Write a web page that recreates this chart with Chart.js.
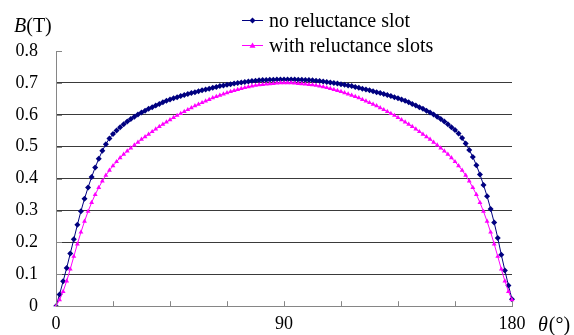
<!DOCTYPE html>
<html>
<head>
<meta charset="utf-8">
<script src="https://cdn.jsdelivr.net/npm/chart.js@4.4.1/dist/chart.umd.min.js"></script>
<style>
  html, body { margin: 0; padding: 0; background: #fff; }
</style>
</head>
<body>
<canvas id="chart" width="574" height="335"></canvas>
<script>
// sampling grid: 129 points from 0 to 180 degrees
var angles = Array.from({ length: 129 }, function (_, i) { return +(i * 180 / 128).toFixed(2); });
var tickLabels = ['0', '90', '180'];
var seriesNames = ['no reluctance slot', 'with reluctance slots'];

// B (T) without reluctance slot
var noSlotB = [
  0, 0.037, 0.078, 0.12, 0.165, 0.21, 0.255, 0.298, 0.337, 0.372,
  0.405, 0.435, 0.462, 0.487, 0.508, 0.526, 0.54, 0.551, 0.561, 0.57,
  0.579, 0.587, 0.594, 0.601, 0.607, 0.613, 0.619, 0.624, 0.629, 0.634,
  0.639, 0.644, 0.648, 0.652, 0.655, 0.659, 0.662, 0.665, 0.668, 0.671,
  0.674, 0.677, 0.679, 0.682, 0.685, 0.687, 0.69, 0.692, 0.694, 0.696,
  0.698, 0.7, 0.701, 0.703, 0.704, 0.706, 0.707, 0.708, 0.709, 0.709,
  0.71, 0.71, 0.711, 0.711, 0.711,
  0.711, 0.711, 0.711, 0.71, 0.71, 0.709, 0.709, 0.708, 0.707, 0.706,
  0.704, 0.703, 0.701, 0.7, 0.698, 0.696, 0.694, 0.692, 0.69, 0.687,
  0.685, 0.682, 0.679, 0.677, 0.674, 0.671, 0.668, 0.665, 0.662, 0.659,
  0.655, 0.652, 0.648, 0.644, 0.639, 0.634, 0.629, 0.624, 0.619, 0.613,
  0.607, 0.601, 0.594, 0.587, 0.579, 0.57, 0.561, 0.552, 0.541, 0.527,
  0.51, 0.49, 0.468, 0.442, 0.413, 0.38, 0.345, 0.305, 0.262, 0.214,
  0.161, 0.112, 0.065, 0.022
];

// B (T) with reluctance slots
var withSlotsB = [
  0, 0.02, 0.046, 0.079, 0.116, 0.156, 0.195, 0.232, 0.266, 0.297,
  0.325, 0.35, 0.372, 0.392, 0.41, 0.426, 0.44, 0.453, 0.465, 0.476,
  0.486, 0.496, 0.505, 0.514, 0.523, 0.531, 0.539, 0.547, 0.555, 0.563,
  0.57, 0.577, 0.584, 0.591, 0.598, 0.604, 0.61, 0.616, 0.622, 0.628,
  0.633, 0.638, 0.643, 0.648, 0.653, 0.657, 0.661, 0.665, 0.669, 0.673,
  0.676, 0.679, 0.682, 0.685, 0.688, 0.69, 0.692, 0.694, 0.695, 0.696,
  0.697, 0.698, 0.699, 0.7, 0.7,
  0.7, 0.7, 0.699, 0.698, 0.697, 0.696, 0.695, 0.694, 0.692, 0.69,
  0.688, 0.685, 0.682, 0.679, 0.676, 0.673, 0.669, 0.665, 0.661, 0.657,
  0.653, 0.648, 0.643, 0.638, 0.633, 0.628, 0.622, 0.616, 0.61, 0.604,
  0.598, 0.591, 0.584, 0.577, 0.57, 0.563, 0.555, 0.547, 0.539, 0.531,
  0.523, 0.514, 0.505, 0.496, 0.486, 0.476, 0.465, 0.453, 0.44, 0.426,
  0.41, 0.392, 0.372, 0.35, 0.325, 0.297, 0.266, 0.232, 0.195, 0.156,
  0.116, 0.079, 0.046, 0.02
];

var SERIF = '"Liberation Serif", "Times New Roman", serif';
var NAVY = '#000080';
var MAGENTA = '#FF00FF';

function drawMarker(ctx, style, cx, cy, r, color) {
    ctx.fillStyle = color;
    ctx.beginPath();
    if (style === 'rectRot') {
        ctx.moveTo(cx, cy - r); ctx.lineTo(cx + r, cy); ctx.lineTo(cx, cy + r); ctx.lineTo(cx - r, cy);
    } else {
        ctx.moveTo(cx, cy - r); ctx.lineTo(cx + r, cy + r * 0.75); ctx.lineTo(cx - r, cy + r * 0.75);
    }
    ctx.closePath();
    ctx.fill();
}

// inside tick marks, axis captions and the two-row legend
var extras = {
    id: 'extras',
    afterDraw: function (chart) {
        var ctx = chart.ctx;
        var xs = chart.scales.x, ys = chart.scales.y;
        ctx.save();
        ctx.strokeStyle = '#868686';
        ctx.lineWidth = 1;
        ctx.beginPath();
        for (var i = 0; i < angles.length; i += 16) {
            var px = Math.round(xs.getPixelForValue(i)) + 0.5;
            ctx.moveTo(px, xs.top); ctx.lineTo(px, xs.top - 5);
        }
        ys.ticks.forEach(function (t) {
            var py = Math.round(ys.getPixelForValue(t.value)) + 0.5;
            ctx.moveTo(ys.right, py); ctx.lineTo(ys.right + 6, py);
        });
        ctx.stroke();

        ctx.fillStyle = '#000';
        ctx.textBaseline = 'alphabetic';
        // B(T)
        ctx.font = 'italic 20px ' + SERIF;
        ctx.fillText('B', 14, 32);
        var w = ctx.measureText('B').width;
        ctx.font = '20px ' + SERIF;
        ctx.fillText('(T)', 14 + w, 32);
        // θ(°)
        ctx.font = 'italic 20px ' + SERIF;
        ctx.fillText('θ', 538, 331);
        w = ctx.measureText('θ').width;
        ctx.font = '20px ' + SERIF;
        ctx.fillText('(°)', 538 + w + 1, 331);

        // legend
        var rows = [20.5, 45.5];
        chart.data.datasets.forEach(function (ds, k) {
            var ly = rows[k];
            ctx.strokeStyle = ds.borderColor;
            ctx.beginPath();
            ctx.moveTo(242, ly); ctx.lineTo(263, ly);
            ctx.stroke();
            drawMarker(ctx, ds.pointStyle, 252.5, ly, 3, ds.borderColor);
            ctx.fillStyle = '#000';
            ctx.font = '20px ' + SERIF;
            ctx.fillText(ds.label, 269, ly + 6);
        });
        ctx.restore();
    }
};

var ctx = document.getElementById('chart').getContext('2d');
var chart = new Chart(ctx, {
    type: 'line',
    data: {
        labels: angles,
        datasets: [{
            label: seriesNames[0],
            data: noSlotB,
            borderColor: NAVY,
            backgroundColor: NAVY,
            borderWidth: 1,
            pointStyle: 'rectRot',
            pointRadius: 3,
            pointBorderWidth: 0,
            order: 1
        }, {
            label: seriesNames[1],
            data: withSlotsB,
            borderColor: MAGENTA,
            backgroundColor: MAGENTA,
            borderWidth: 1,
            pointStyle: 'triangle',
            pointRadius: 2.8,
            pointBorderWidth: 0,
            order: 0
        }]
    },
    options: {
        responsive: false,
        animation: false,
        events: [],
        layout: { padding: { left: 0, right: 62, top: 51, bottom: 0 } },
        plugins: {
            legend: { display: false },
            tooltip: { enabled: false }
        },
        scales: {
            x: {
                type: 'category',
                offset: false,
                grid: { display: true, drawOnChartArea: false, drawTicks: false },
                border: { display: true, color: '#868686', width: 1 },
                ticks: {
                    autoSkip: false,
                    maxRotation: 0,
                    padding: 7,
                    color: '#000',
                    font: { family: SERIF, size: 18 },
                    callback: function (v, i) { return i % 64 === 0 ? tickLabels[i / 64] : ''; }
                },
                afterFit: function (s) { s.height = 27; }
            },
            y: {
                min: 0,
                max: 0.8,
                grid: {
                    drawTicks: false,
                    color: function (c) {
                        var v = c.tick ? c.tick.value : 0;
                        return (v <= 0.001 || v >= 0.799) ? 'rgba(0,0,0,0)' : '#3a3a3a';
                    }
                },
                border: { display: true, color: '#868686', width: 1 },
                ticks: {
                    stepSize: 0.1,
                    padding: 18,
                    color: '#000',
                    font: { family: SERIF, size: 18 },
                    callback: function (v) { return v === 0 ? '0' : v.toFixed(1); }
                },
                afterFit: function (s) { s.width = 56; }
            }
        }
    },
    plugins: [extras]
});
</script>
</body>
</html>
